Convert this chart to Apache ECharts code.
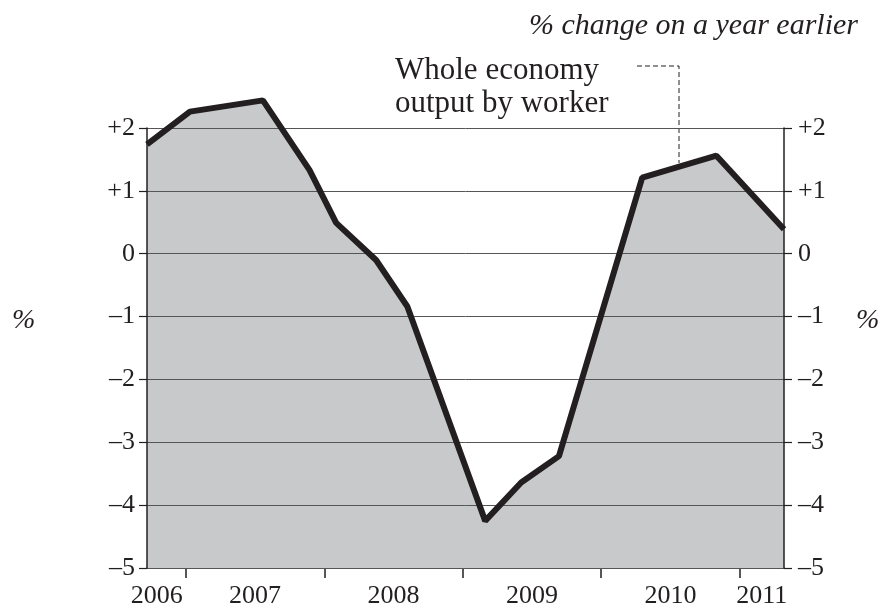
<!DOCTYPE html>
<html>
<head>
<meta charset="utf-8">
<script src="https://cdn.jsdelivr.net/npm/echarts@6/dist/echarts.min.js"></script>
<style>
  html, body { margin: 0; padding: 0; background: #fff; }
  #chart { width: 885px; height: 612px; }
</style>
</head>
<body>
<div id="chart"></div>
<script>
  // dates as fractional years, values in % change on a year earlier
  const dates = [2006.72, 2007.03, 2007.557, 2007.894, 2008.086, 2008.374, 2008.6,
                 2009.162, 2009.422, 2009.695, 2010.296, 2010.832, 2011.32];
  const output = [1.74, 2.26, 2.44, 1.33, 0.49, -0.10, -0.84,
                  -4.25, -3.64, -3.22, 1.21, 1.56, 0.39];
  const years = [2006, 2007, 2008, 2009, 2010, 2011];
  const yTicks = [-5, -4, -3, -2, -1, 0, 1, 2];

  const xMin = 2006.72, xMax = 2011.32;
  const ink = '#231f20';
  const serif = '"Liberation Serif", "Times New Roman", serif';

  // tick marks at year boundaries, labels in the middle of each visible year
  const yearTicks = years.filter(y => y > xMin && y < xMax);
  const yearLabelPos = years.map(y => {
    if (y === 2006) return 2006.79;
    const a = Math.max(y, xMin), b = Math.min(y + 1, xMax);
    return (a + b) / 2;
  });

  function fmtY(v) {
    if (v > 0) return '+' + v;
    if (v < 0) return '\u2013' + Math.abs(v);
    return '0';
  }

  const seriesData = dates.map((d, i) => [d, output[i]]);

  const chart = echarts.init(document.getElementById('chart'));
  const yBase = {
    type: 'value',
    min: yTicks[0],
    max: yTicks[yTicks.length - 1],
    interval: 1,
    z: 2,
    axisLine: { show: true, lineStyle: { color: ink, width: 1.5 } },
    axisTick: { show: true, inside: false, length: 8, lineStyle: { color: ink, width: 1.2 } }
  };
  const pctStyle = { text: '%', font: 'italic 28px ' + serif, fill: ink };
  const option = {
    animation: false,
    backgroundColor: '#fff',
    title: {
      text: '% change on a year earlier',
      right: 22,
      top: 6,
      textStyle: { fontFamily: serif, fontStyle: 'italic', fontWeight: 'normal', fontSize: 30, color: ink }
    },
    grid: { left: 147, right: 101, top: 128, bottom: 44 },
    xAxis: {
      type: 'value',
      min: xMin,
      max: xMax,
      splitLine: { show: false },
      axisLine: { show: true, onZero: false, lineStyle: { color: ink, width: 1.5 } },
      axisTick: { show: true, length: 10, customValues: yearTicks, lineStyle: { color: ink, width: 1.5 } },
      axisLabel: {
        customValues: yearLabelPos,
        formatter: v => String(years[yearLabelPos.indexOf(v)]),
        margin: 15,
        fontFamily: serif,
        fontSize: 26,
        color: ink
      }
    },
    yAxis: [
      Object.assign({}, yBase, {
        position: 'left',
        splitLine: { show: true, lineStyle: { color: '#555', width: 1 } },
        axisLabel: { formatter: fmtY, margin: 12, fontFamily: serif, fontSize: 26, color: ink }
      }),
      Object.assign({}, yBase, {
        position: 'right',
        splitLine: { show: false },
        axisLabel: { formatter: fmtY, margin: 14, fontFamily: serif, fontSize: 26, color: ink }
      })
    ],
    graphic: [
      { type: 'text', left: 12, top: 307, style: pctStyle },
      { type: 'text', left: 856, top: 307, style: pctStyle },
      {
        type: 'text',
        left: 395,
        top: 54,
        style: {
          text: 'Whole economy\noutput by worker',
          font: '31px ' + serif,
          fill: ink,
          lineHeight: 33
        }
      },
      {
        type: 'polyline',
        shape: { points: [[637, 66], [679, 66], [679, 163]] },
        style: { stroke: ink, lineWidth: 1, lineDash: [5, 3], fill: null }
      }
    ],
    series: [
      {
        type: 'line',
        data: seriesData,
        symbol: 'none',
        clip: false,
        z: 1,
        lineStyle: { width: 0 },
        areaStyle: { color: '#c8c9cb', opacity: 1, origin: 'start' }
      },
      {
        type: 'line',
        data: seriesData,
        symbol: 'none',
        clip: false,
        z: 3,
        lineStyle: { color: ink, width: 6 }
      }
    ]
  };
  chart.setOption(option);
</script>
</body>
</html>
